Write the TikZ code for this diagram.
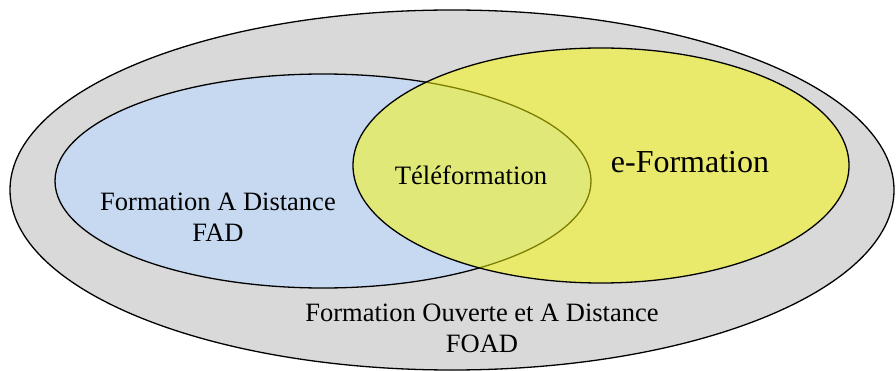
\documentclass[tikz,border=0pt]{standalone}
\usepackage{fontspec}
\setmainfont{Liberation Serif}
\usetikzlibrary{shapes.geometric}
\definecolor{outergray}{RGB}{217,217,217}
\definecolor{fadblue}{RGB}{198,217,240}
\definecolor{eyellow}{RGB}{250,250,0}
\tikzset{
  venn/.style={ellipse, draw=black, line width=1.3pt, inner sep=0pt},
  lbl/.style={inner sep=0pt, text=black, align=center},
}
\begin{document}
\begin{tikzpicture}[x=1pt,y=-1pt]
\useasboundingbox (0,0) rectangle (896,371);
\node[venn, fill=outergray, minimum width=884pt, minimum height=360pt] (outer) at (452,190) {};
\node[venn, fill=fadblue, minimum width=536pt, minimum height=214pt] (fad) at (323,181) {};
\node[venn, fill=eyellow, fill opacity=0.5, minimum width=496pt, minimum height=235pt] (eform) at (601,165.5) {};
\node[lbl, anchor=base, font=\fontsize{26.5}{31}\selectfont] (fadtxt) at (218,241) {Formation A Distance\\FAD};
\node[lbl, anchor=base, font=\fontsize{26.6}{31}\selectfont] (tele) at (471,185) {Téléformation};
\node[lbl, anchor=base, font=\fontsize{32}{38}\selectfont] (etxt) at (690,173) {e-Formation};
\node[lbl, anchor=base, font=\fontsize{26.5}{31}\selectfont] (foad) at (482,352) {Formation Ouverte et A Distance\\FOAD};
\end{tikzpicture}
\end{document}
